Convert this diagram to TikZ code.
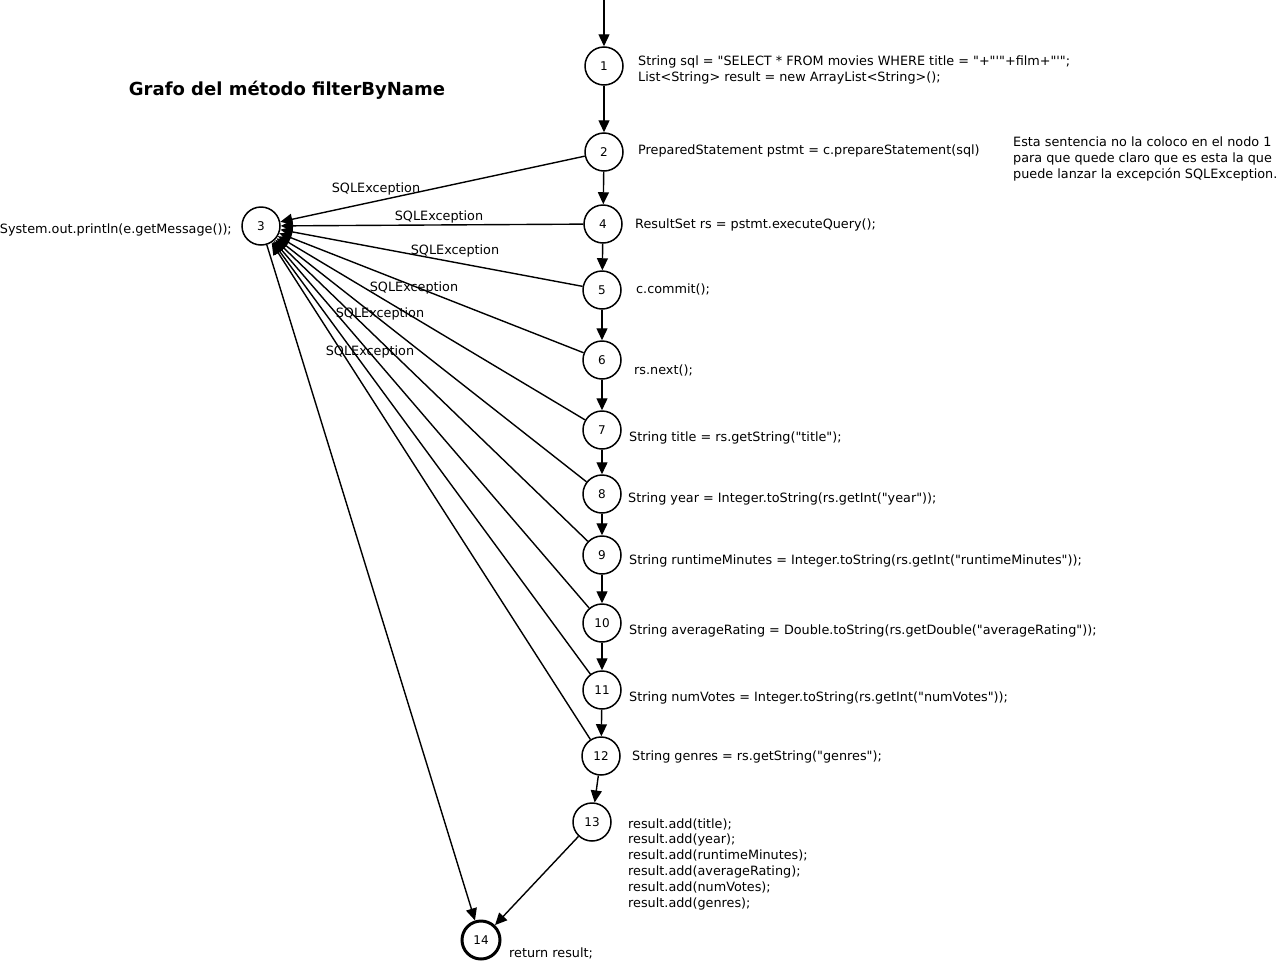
\documentclass[tikz,border=0pt]{standalone}
\usepackage{fontspec}
\setmainfont{DejaVu Sans}[Ligatures=TeXOff]
\usetikzlibrary{arrows.meta}
\begin{document}
\begin{tikzpicture}[x=1pt,y=-1pt,
  every node/.style={font=\fontsize{12.8}{15.8}\selectfont},
  gnode/.style={circle,draw,line width=1.5pt,minimum size=38pt,inner sep=0pt,font=\fontsize{12}{13}\selectfont},
  endnode/.style={gnode,line width=3pt},
  flow/.style={line width=1.4pt,-{Triangle[length=12pt,width=11pt]}},
  code/.style={anchor=west,inner sep=0pt,align=left},
  exc/.style={inner sep=0pt}]
\useasboundingbox (0,0) rectangle (1279,964);
\node[font=\fontsize{18}{22}\selectfont\bfseries] (title) at (287,90) {Grafo del método filterByName};
\coordinate (start) at (604,0);
\node[gnode] (n1) at (604,66) {1};
\node[gnode] (n2) at (604,152) {2};
\node[gnode] (n3) at (261,226) {3};
\node[gnode] (n4) at (603,224) {4};
\node[gnode] (n5) at (602,290) {5};
\node[gnode] (n6) at (602,360) {6};
\node[gnode] (n7) at (602,430) {7};
\node[gnode] (n8) at (602,494) {8};
\node[gnode] (n9) at (602,555) {9};
\node[gnode] (n10) at (602,623) {10};
\node[gnode] (n11) at (602,690) {11};
\node[gnode] (n12) at (601,756) {12};
\node[gnode] (n13) at (592,822) {13};
\node[endnode] (n14) at (481,940) {14};
% code texts
\node[code] (t1) at (638,70) {String sql = "SELECT * FROM movies WHERE title = "+"'"+film+"'";\\List<String> result = new ArrayList<String>();};
\node[code] (t2) at (638,151) {PreparedStatement pstmt = c.prepareStatement(sql)};
\node[code] (note) at (1013,159) {Esta sentencia no la coloco en el nodo 1\\para que quede claro que es esta la que\\puede lanzar la excepción SQLException.};
\node[anchor=east,inner sep=0pt] (t3) at (232,230) {System.out.println(e.getMessage());};
\node[code] (t4) at (635,225) {ResultSet rs = pstmt.executeQuery();};
\node[code] (t5) at (636,289) {c.commit();};
\node[code] (t6) at (634,370) {rs.next();};
\node[code] (t7) at (629,438) {String title = rs.getString("title");};
\node[code] (t8) at (628,499) {String year = Integer.toString(rs.getInt("year"));};
\node[code] (t9) at (629,561) {String runtimeMinutes = Integer.toString(rs.getInt("runtimeMinutes"));};
\node[code] (t10) at (629,631) {String averageRating = Double.toString(rs.getDouble("averageRating"));};
\node[code] (t11) at (629,698) {String numVotes = Integer.toString(rs.getInt("numVotes"));};
\node[code] (t12) at (632,757) {String genres = rs.getString("genres");};
\node[code] (t13) at (628,864) {result.add(title);\\result.add(year);\\result.add(runtimeMinutes);\\result.add(averageRating);\\result.add(numVotes);\\result.add(genres);};
\node[code] (t14) at (509,953) {return result;};
% flow
\draw[flow] (start) -- (n1);
\draw[flow] (n1) -- (n2);
\draw[flow] (n2) -- (n4);
\draw[flow] (n4) -- (n5);
\draw[flow] (n5) -- (n6);
\draw[flow] (n6) -- (n7);
\draw[flow] (n7) -- (n8);
\draw[flow] (n8) -- (n9);
\draw[flow] (n9) -- (n10);
\draw[flow] (n10) -- (n11);
\draw[flow] (n11) -- (n12);
\draw[flow] (n12) -- (n13);
\draw[flow] (n13) -- (n14);
\draw[flow] (n3) -- (n14);
% exceptions
\foreach \s in {n2,n4,n5,n6,n7,n8,n9,n10,n11,n12}
  \draw[flow] (\s) -- (n3);
\node[exc] (e1) at (376,189) {SQLException};
\node[exc] (e2) at (439,217) {SQLException};
\node[exc] (e3) at (455,251) {SQLException};
\node[exc] (e4) at (414,288) {SQLException};
\node[exc] (e5) at (380,314) {SQLException};
\node[exc] (e6) at (370,352) {SQLException};
\end{tikzpicture}
\end{document}
